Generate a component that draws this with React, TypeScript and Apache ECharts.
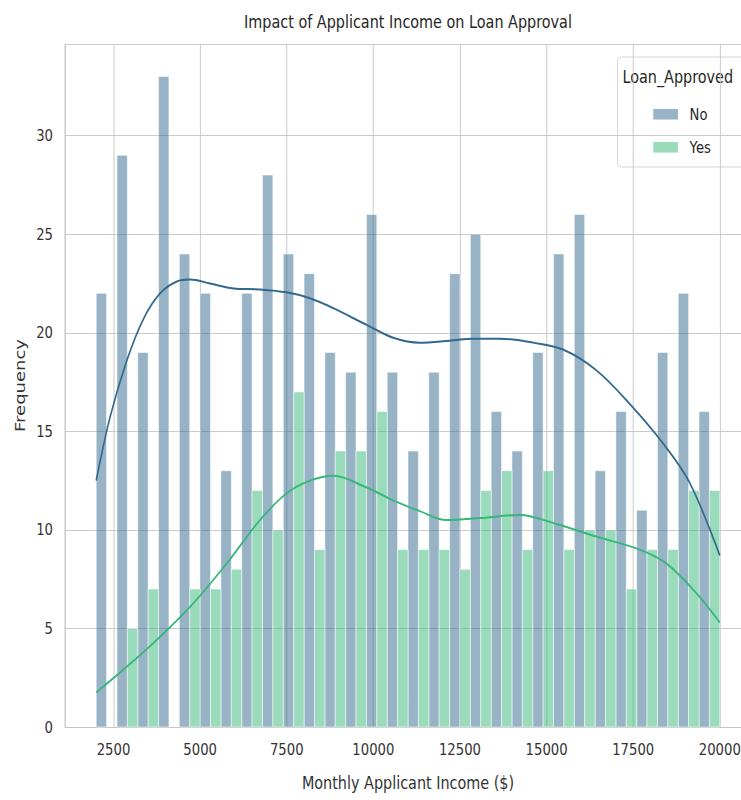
import React, { useEffect, useRef } from "react";
import * as echarts from "echarts";

// Histogram bins (left edge of each 600$ bin)
const incomeBins = [
  2000, 2600, 3200, 3800, 4400, 5000, 5600, 6200, 6800, 7400,
  8000, 8600, 9200, 9800, 10400, 11000, 11600, 12200, 12800, 13400,
  14000, 14600, 15200, 15800, 16400, 17000, 17600, 18200, 18800, 19400,
];
const binWidth = 600;

// Counts per bin, by loan outcome
const countNo = [
  22, 29, 19, 33, 24, 22, 13, 22, 28, 24,
  23, 19, 18, 26, 18, 14, 18, 23, 25, 16,
  14, 19, 24, 26, 13, 16, 11, 19, 22, 16,
];
const countYes = [
  0, 5, 7, 0, 7, 7, 8, 12, 10, 17,
  9, 14, 14, 16, 9, 9, 9, 8, 12, 13,
  9, 13, 9, 10, 10, 7, 9, 9, 12, 12,
];

// Kernel density estimates, scaled to counts: [income, frequency]
const kdeNo = [
  [2000, 12.5], [2405, 15.75], [2886, 18.6], [3364, 20.7], [3846, 22.0],
  [4327, 22.6], [4711, 22.7], [5287, 22.5], [5959, 22.25], [6729, 22.2],
  [7499, 22.05], [8171, 21.75], [8842, 21.25], [9805, 20.4], [10572, 19.75],
  [11342, 19.5], [12207, 19.6], [12878, 19.7], [13648, 19.7], [14608, 19.5],
  [15473, 19.15], [16436, 18.1], [17396, 16.4], [18356, 14.4], [19126, 12.4],
  [20000, 8.7],
];
const kdeYes = [
  [2000, 1.75], [2886, 3.06], [3846, 4.58], [4806, 6.28], [5769, 8.3],
  [6729, 10.5], [7499, 11.86], [8171, 12.5], [8842, 12.75], [9805, 12.15],
  [10572, 11.5], [11342, 10.95], [12110, 10.5], [13070, 10.6], [14225, 10.76],
  [15283, 10.3], [16436, 9.66], [17685, 9.0], [18454, 8.3], [19319, 6.8],
  [20000, 5.3],
];

const xTicksMin = 1100;
const xTicksMax = 20900;
const yMax = 34.65;

const colorNo = "#31688e";
const colorYes = "#35b779";
const fillNo = "rgba(49,104,142,0.5)";
const fillYes = "rgba(53,183,121,0.5)";

const FONT = "DejaVu Sans";
const TEXT = "#333333";
const GRID = "#c4c4c4";

// The figure is laid out on a wider canvas and compressed horizontally.
const SQUEEZE = 0.8;
const CANVAS_W = 1000;
const CANVAS_H = 800;

function histSeries(name: string, counts: number[], offset: number, fill: string) {
  return {
    name,
    type: "custom",
    z: 2,
    data: incomeBins.map((b, i) => [b, counts[i]]),
    encode: { x: 0, y: 1 },
    renderItem: (_params: any, api: any) => {
      const start = api.value(0);
      const v = api.value(1);
      if (!v) return null;
      const p0 = api.coord([start + offset, v]);
      const p1 = api.coord([start + offset + binWidth / 2, 0]);
      return {
        type: "rect",
        shape: { x: p0[0], y: p0[1], width: p1[0] - p0[0], height: p1[1] - p0[1] },
        style: { fill, stroke: "rgba(255,255,255,0.6)", lineWidth: 1 },
      };
    },
  };
}

export default function App() {
  const ref = useRef<HTMLDivElement>(null);

  useEffect(() => {
    if (!ref.current) return;
    const chart = echarts.init(ref.current, undefined, { renderer: "svg" });
    const legendX = 772;
    chart.setOption({
      animation: false,
      backgroundColor: "#ffffff",
      grid: { left: 81.25, right: 61.25, top: 44, bottom: 73 },
      xAxis: {
        type: "value",
        min: xTicksMin,
        max: xTicksMax,
        minInterval: 2500,
        maxInterval: 2500,
        splitNumber: 8,
        axisLine: { show: true, lineStyle: { color: GRID, width: 1 } },
        axisTick: { show: false },
        axisLabel: {
          color: TEXT,
          fontSize: 16.5,
          fontFamily: FONT,
          margin: 14,
          showMinLabel: false,
          showMaxLabel: false,
          formatter: (v: number) => String(v),
        },
        splitLine: { show: true, lineStyle: { color: GRID, width: 1 } },
        name: "Monthly Applicant Income ($)",
        nameLocation: "middle",
        nameGap: 47,
        nameTextStyle: { fontSize: 18, color: TEXT, fontFamily: FONT },
      },
      yAxis: {
        type: "value",
        min: 0,
        max: yMax,
        interval: 5,
        axisLine: { show: true, lineStyle: { color: GRID, width: 1 } },
        axisTick: { show: false },
        axisLabel: {
          color: TEXT,
          fontSize: 16.5,
          fontFamily: FONT,
          margin: 15,
          showMaxLabel: false,
          formatter: (v: number) => String(v),
        },
        splitLine: { show: true, lineStyle: { color: GRID, width: 1 } },
        name: "Frequency",
        nameLocation: "middle",
        nameGap: 35,
        nameTextStyle: { fontSize: 18, color: TEXT, fontFamily: FONT },
      },
      series: [
        histSeries("No", countNo, 0, fillNo),
        histSeries("Yes", countYes, binWidth / 2, fillYes),
        {
          name: "No KDE",
          type: "line",
          z: 3,
          data: kdeNo,
          showSymbol: false,
          smooth: 0.35,
          lineStyle: { color: colorNo, width: 2 },
        },
        {
          name: "Yes KDE",
          type: "line",
          z: 3,
          data: kdeYes,
          showSymbol: false,
          smooth: 0.35,
          lineStyle: { color: colorYes, width: 2 },
        },
      ],
      graphic: [
        {
          type: "text",
          x: 510,
          y: 22,
          style: {
            text: "Impact of Applicant Income on Loan Approval",
            align: "center",
            verticalAlign: "middle",
            fontSize: 18,
            fontFamily: FONT,
            fill: "#262626",
          },
        },
        {
          type: "group",
          z: 10,
          children: [
            {
              type: "rect",
              shape: { x: legendX, y: 57, width: 170, height: 110, r: 4 },
              style: { fill: "rgba(255,255,255,0.85)", stroke: "#d0d0d0", lineWidth: 1 },
            },
            {
              type: "text",
              x: legendX + 6,
              y: 77,
              style: {
                text: "Loan_Approved",
                verticalAlign: "middle",
                fontSize: 18,
                fontFamily: FONT,
                fill: "#262626",
              },
            },
            {
              type: "rect",
              shape: { x: 816, y: 108.5, width: 32, height: 11.5 },
              style: { fill: fillNo, stroke: "#ffffff", lineWidth: 1 },
            },
            {
              type: "text",
              x: 862,
              y: 114,
              style: { text: "No", verticalAlign: "middle", fontSize: 16.5, fontFamily: FONT, fill: "#262626" },
            },
            {
              type: "rect",
              shape: { x: 816, y: 141.5, width: 32, height: 11.5 },
              style: { fill: fillYes, stroke: "#ffffff", lineWidth: 1 },
            },
            {
              type: "text",
              x: 862,
              y: 147,
              style: { text: "Yes", verticalAlign: "middle", fontSize: 16.5, fontFamily: FONT, fill: "#262626" },
            },
          ],
        },
      ],
    });
    return () => chart.dispose();
  }, []);

  return (
    <div
      style={{
        position: "fixed",
        left: 0,
        top: 0,
        width: 741,
        height: 800,
        overflow: "hidden",
        background: "#ffffff",
      }}
    >
      <div
        ref={ref}
        style={{
          width: CANVAS_W,
          height: CANVAS_H,
          transform: `scaleX(${SQUEEZE})`,
          transformOrigin: "0 0",
        }}
      />
    </div>
  );
}
